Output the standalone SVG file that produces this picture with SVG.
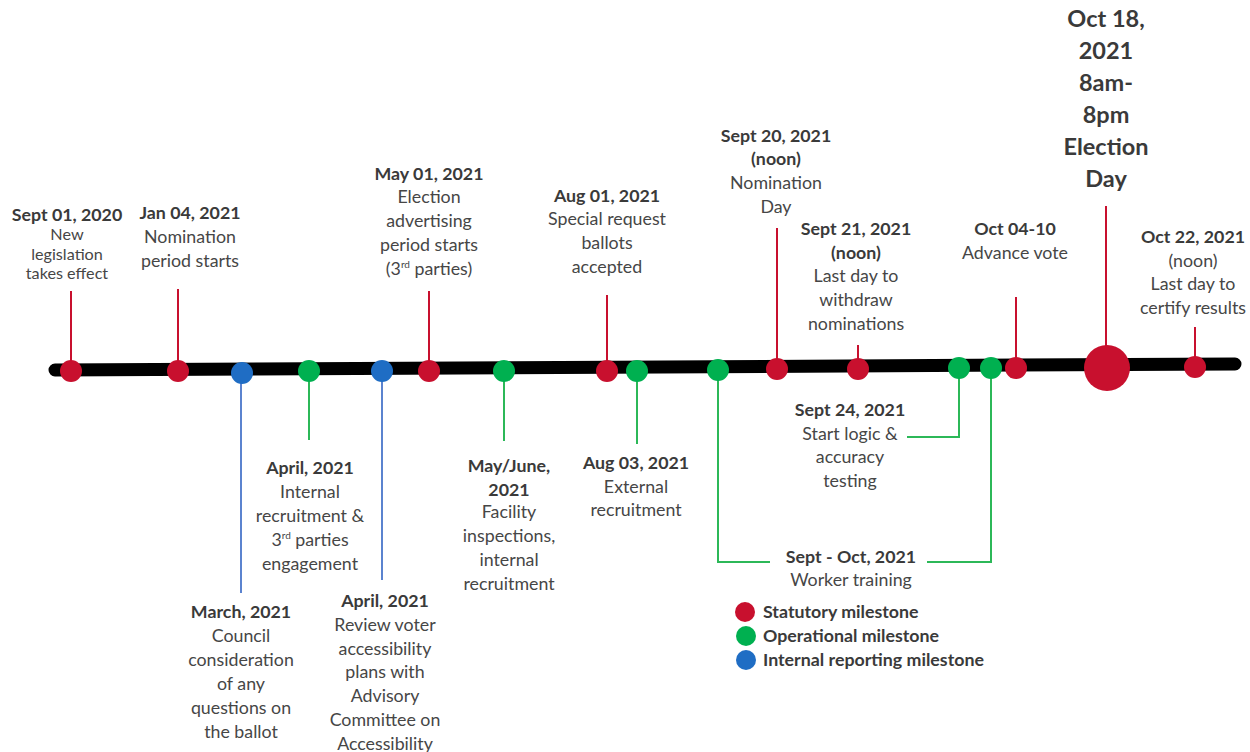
<svg xmlns="http://www.w3.org/2000/svg" width="1250" height="752" viewBox="0 0 1250 752">
<style>
text{font-family:Lato,"Liberation Sans",sans-serif;font-size:17.8px;fill:#464646;text-anchor:middle}
.b{font-weight:bold;fill:#3a3a3a}
.big{font-size:23.5px;font-weight:bold;fill:#3a3a3a}
.lg{text-anchor:start;font-weight:bold;fill:#3a3a3a}
.sm{font-size:16.2px}
.sup{font-size:10px}
.r{fill:#c8102e}.g{fill:#00b050}.bl{fill:#1f6dc4}
.sr{stroke:#c8102e;stroke-width:2;fill:none}
.sg{stroke:#2cb858;stroke-width:2;fill:none}
.sb{stroke:#5b83cf;stroke-width:2;fill:none}
</style>
<rect width="1250" height="752" fill="#fff"/>
<g id="connectors">
<line x1="55" y1="370" x2="1235" y2="364" stroke="#000" stroke-width="13" stroke-linecap="round"/>
<path class="sr" d="M71 291V370M178 289V370M429 291V370M607 295V370M777 228V369M858 345V369M1016 297V368M1106 206V368M1195 327V367"/>
<path class="sb" d="M241 373V593M382 371V580"/>
<path class="sg" d="M309 371V440M504 371V441M637 371V444M718 370V562H770M927 562H991V368M959 368V437H907"/>
</g>
<g id="dots">
<circle class="r" cx="71" cy="371" r="11"/>
<circle class="r" cx="178" cy="371" r="11"/>
<circle class="bl" cx="242" cy="373" r="11"/>
<circle class="g" cx="309" cy="371" r="11"/>
<circle class="bl" cx="382" cy="371" r="11"/>
<circle class="r" cx="429" cy="371" r="11"/>
<circle class="g" cx="504" cy="371" r="11"/>
<circle class="r" cx="607" cy="371" r="11"/>
<circle class="g" cx="637" cy="371" r="11"/>
<circle class="g" cx="718" cy="370" r="11"/>
<circle class="r" cx="777" cy="369" r="11"/>
<circle class="r" cx="858" cy="369" r="11"/>
<circle class="g" cx="959" cy="368" r="11"/>
<circle class="g" cx="991" cy="368" r="11"/>
<circle class="r" cx="1016" cy="368" r="11"/>
<circle class="r" cx="1107" cy="368" r="23"/>
<circle class="r" cx="1195" cy="367" r="11"/>
</g>
<g id="n-sep2020">
<text class="b" x="67" y="221">Sept 01, 2020</text>
<text class="sm" x="67" y="240">New</text><text class="sm" x="67" y="259.5">legislation</text><text class="sm" x="67" y="279">takes effect</text>
</g>
<g id="n-jan2021">
<text class="b" x="190" y="219">Jan 04, 2021</text>
<text x="190" y="243">Nomination</text><text x="190" y="267">period  starts</text>
</g>
<g id="n-may2021">
<text class="b" x="429" y="180">May 01, 2021</text>
<text x="429" y="203">Election</text><text x="429" y="227">advertising</text><text x="429" y="251">period  starts</text>
<text x="429" y="275">(3<tspan class="sup" dy="-7">rd</tspan><tspan dy="7"> parties)</tspan></text>
</g>
<g id="n-aug01">
<text class="b" x="607" y="202">Aug 01, 2021</text>
<text x="607" y="225">Special request</text><text x="607" y="249">ballots</text><text x="607" y="273">accepted</text>
</g>
<g id="n-sep20">
<text class="b" x="776" y="142">Sept 20, 2021</text>
<text class="b" x="776" y="165">(noon)</text>
<text x="776" y="189">Nomination</text><text x="776" y="213">Day</text>
</g>
<g id="n-sep21">
<text class="b" x="856" y="235">Sept 21, 2021</text>
<text class="b" x="856" y="259">(noon)</text>
<text x="856" y="282">Last day to</text><text x="856" y="306">withdraw</text><text x="856" y="330">nominations</text>
</g>
<g id="n-oct04">
<text class="b" x="1015" y="235">Oct 04-10</text>
<text x="1015" y="259">Advance vote</text>
</g>
<g id="n-oct18">
<text class="big" x="1106" y="27">Oct 18,</text>
<text class="big" x="1106" y="59">2021</text>
<text class="big" x="1106" y="91">8am-</text>
<text class="big" x="1106" y="123">8pm</text>
<text class="big" x="1106" y="155">Election</text>
<text class="big" x="1106" y="187">Day</text>
</g>
<g id="n-oct22">
<text class="b" x="1193" y="243">Oct 22, 2021</text>
<text x="1193" y="267">(noon)</text>
<text x="1193" y="290">Last day to</text><text x="1193" y="314">certify  results</text>
</g>
<g id="n-apr-internal">
<text class="b" x="310" y="474">April, 2021</text>
<text x="310" y="498">Internal</text><text x="310" y="522">recruitment  &amp;</text>
<text x="310" y="546">3<tspan class="sup" dy="-7">rd</tspan><tspan dy="7"> parties</tspan></text>
<text x="310" y="570">engagement</text>
</g>
<g id="n-march">
<text class="b" x="241" y="618">March, 2021</text>
<text x="241" y="642">Council</text><text x="241" y="666">consideration</text><text x="241" y="690">of any</text><text x="241" y="714">questions  on</text><text x="241" y="738">the  ballot</text>
</g>
<g id="n-apr-review">
<text class="b" x="385" y="607">April, 2021</text>
<text x="385" y="631">Review voter</text><text x="385" y="655">accessibility</text><text x="385" y="678">plans  with</text><text x="385" y="702">Advisory</text><text x="385" y="726">Committee  on</text><text x="385" y="750">Accessibility</text>
</g>
<g id="n-mayjune">
<text class="b" x="509" y="472">May/June,</text>
<text class="b" x="509" y="496">2021</text>
<text x="509" y="518">Facility</text><text x="509" y="542">inspections,</text><text x="509" y="566">internal</text><text x="509" y="590">recruitment</text>
</g>
<g id="n-aug03">
<text class="b" x="636" y="469">Aug 03, 2021</text>
<text x="636" y="493">External</text><text x="636" y="516">recruitment</text>
</g>
<g id="n-sep24">
<text class="b" x="850" y="416">Sept 24, 2021</text>
<text x="850" y="440">Start logic &amp;</text><text x="850" y="463">accuracy</text><text x="850" y="487">testing</text>
</g>
<g id="n-training">
<text class="b" x="851" y="563">Sept - Oct, 2021</text>
<text x="851" y="586">Worker training</text>
</g>
<g id="legend">
<circle class="r" cx="745" cy="612" r="10"/>
<circle class="g" cx="746" cy="636" r="10"/>
<circle class="bl" cx="746" cy="660" r="10"/>
<text class="lg" x="763" y="618">Statutory milestone</text>
<text class="lg" x="763" y="642">Operational  milestone</text>
<text class="lg" x="763" y="666">Internal  reporting milestone</text>
</g>
</svg>
